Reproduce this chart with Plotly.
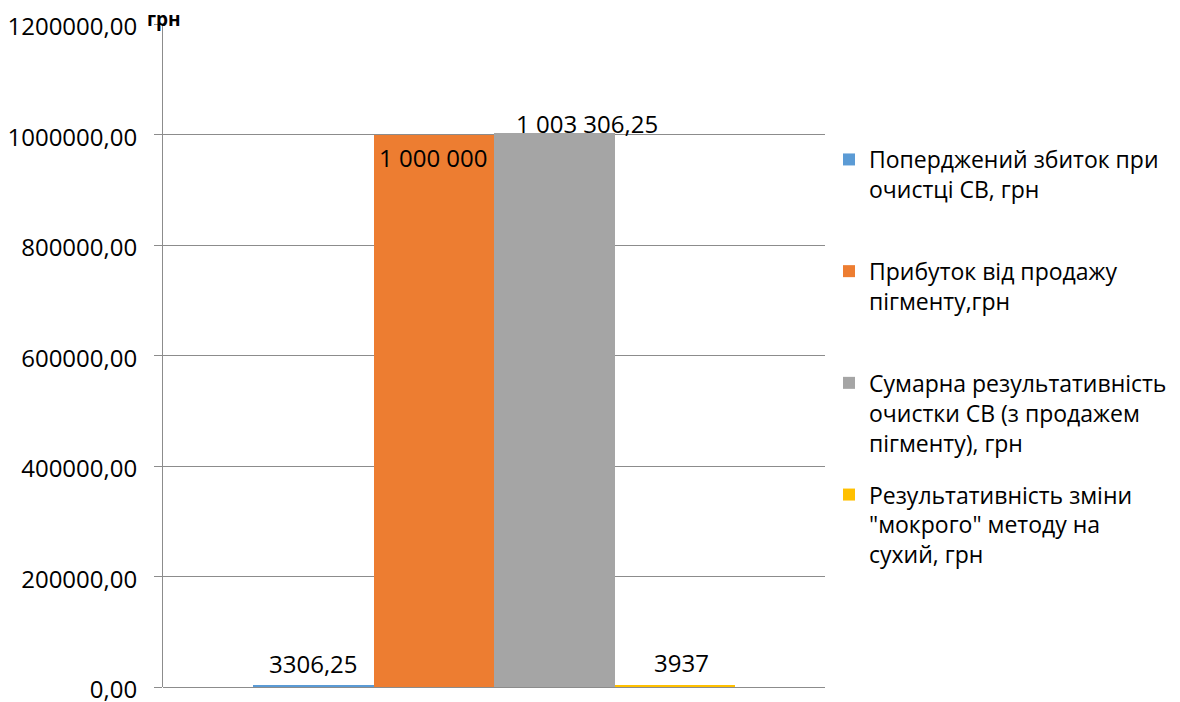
import plotly.graph_objects as go

# ---- data ----
series_names = [
    "Поперджений збиток при<br>очистці СВ, грн<br>\u00a0",
    "Прибуток від продажу<br>пігменту,грн<br>\u00a0",
    "Сумарна результативність<br>очистки СВ (з продажем<br>пігменту), грн",
    "Результативність зміни<br>\"мокрого\" методу на<br>сухий, грн",
]
series_values = [3306.25, 1000000, 1003306.25, 3937]
value_labels = ["3306,25", "1 000 000", "1 003 306,25", "3937"]
y_ticks = [0, 200000, 400000, 600000, 800000, 1000000, 1200000]
unit_label = "грн"

# ---- style ----
colors = ["#5B9BD5", "#ED7D31", "#A5A5A5", "#FFC000"]
label_xshift = [0, 0, 33, 7]
label_yshift = [22, -23, 9, 22]
FONT = "Open Sans"
grid = "#8C8C8C"

fig = go.Figure()
for i, (n, v, c) in enumerate(zip(series_names, series_values, colors)):
    fig.add_trace(go.Bar(x=[i], y=[v], name=n, marker=dict(color=c, line=dict(width=0)),
                         width=1, legendgroup=str(i)))
    fig.add_annotation(x=i, y=v, xref="x", yref="y", text=value_labels[i], showarrow=False,
                       xshift=label_xshift[i], yshift=label_yshift[i],
                       font=dict(family=FONT, size=24, color="#000000"))

fig.add_annotation(x=-18 / 662, y=1, xref="paper", yref="paper", xanchor="left", yanchor="middle",
                   yshift=5, text="<b>" + unit_label + "</b>", showarrow=False,
                   font=dict(family=FONT, size=19, color="#000000"))

fig.update_layout(
    width=1180, height=702,
    margin=dict(l=163, r=355, t=24, b=15, autoexpand=False),
    paper_bgcolor="white", plot_bgcolor="white",
    barmode="overlay", bargap=0,
    separators=", ",
    font=dict(family=FONT, size=23, color="#000000"),
    showlegend=True,
    legend=dict(xref="container", yref="container", x=829 / 1180, y=1 - 138 / 702,
                xanchor="left", yanchor="top", valign="top", tracegroupgap=19,
                maxheight=680,
                font=dict(family=FONT, size=23, color="#000000"),
                bgcolor="rgba(0,0,0,0)"),
    xaxis=dict(range=[-1.247, 4.247], showticklabels=False, showgrid=False, zeroline=False,
               showline=False, ticks=""),
    yaxis=dict(range=[0, 1200000], tickvals=y_ticks, tickformat=".2f", showgrid=True,
               gridcolor=grid, gridwidth=1, zeroline=True, zerolinecolor=grid, zerolinewidth=1,
               showline=True, linecolor=grid, linewidth=1,
               ticks="outside", ticklen=8, tickcolor=grid, tickwidth=1,
               ticklabelstandoff=12, ticklabelshift=3, ticklabeloverflow="allow",
               tickfont=dict(family=FONT, size=24, color="#000000")),
)

fig.write_html("out.html")
